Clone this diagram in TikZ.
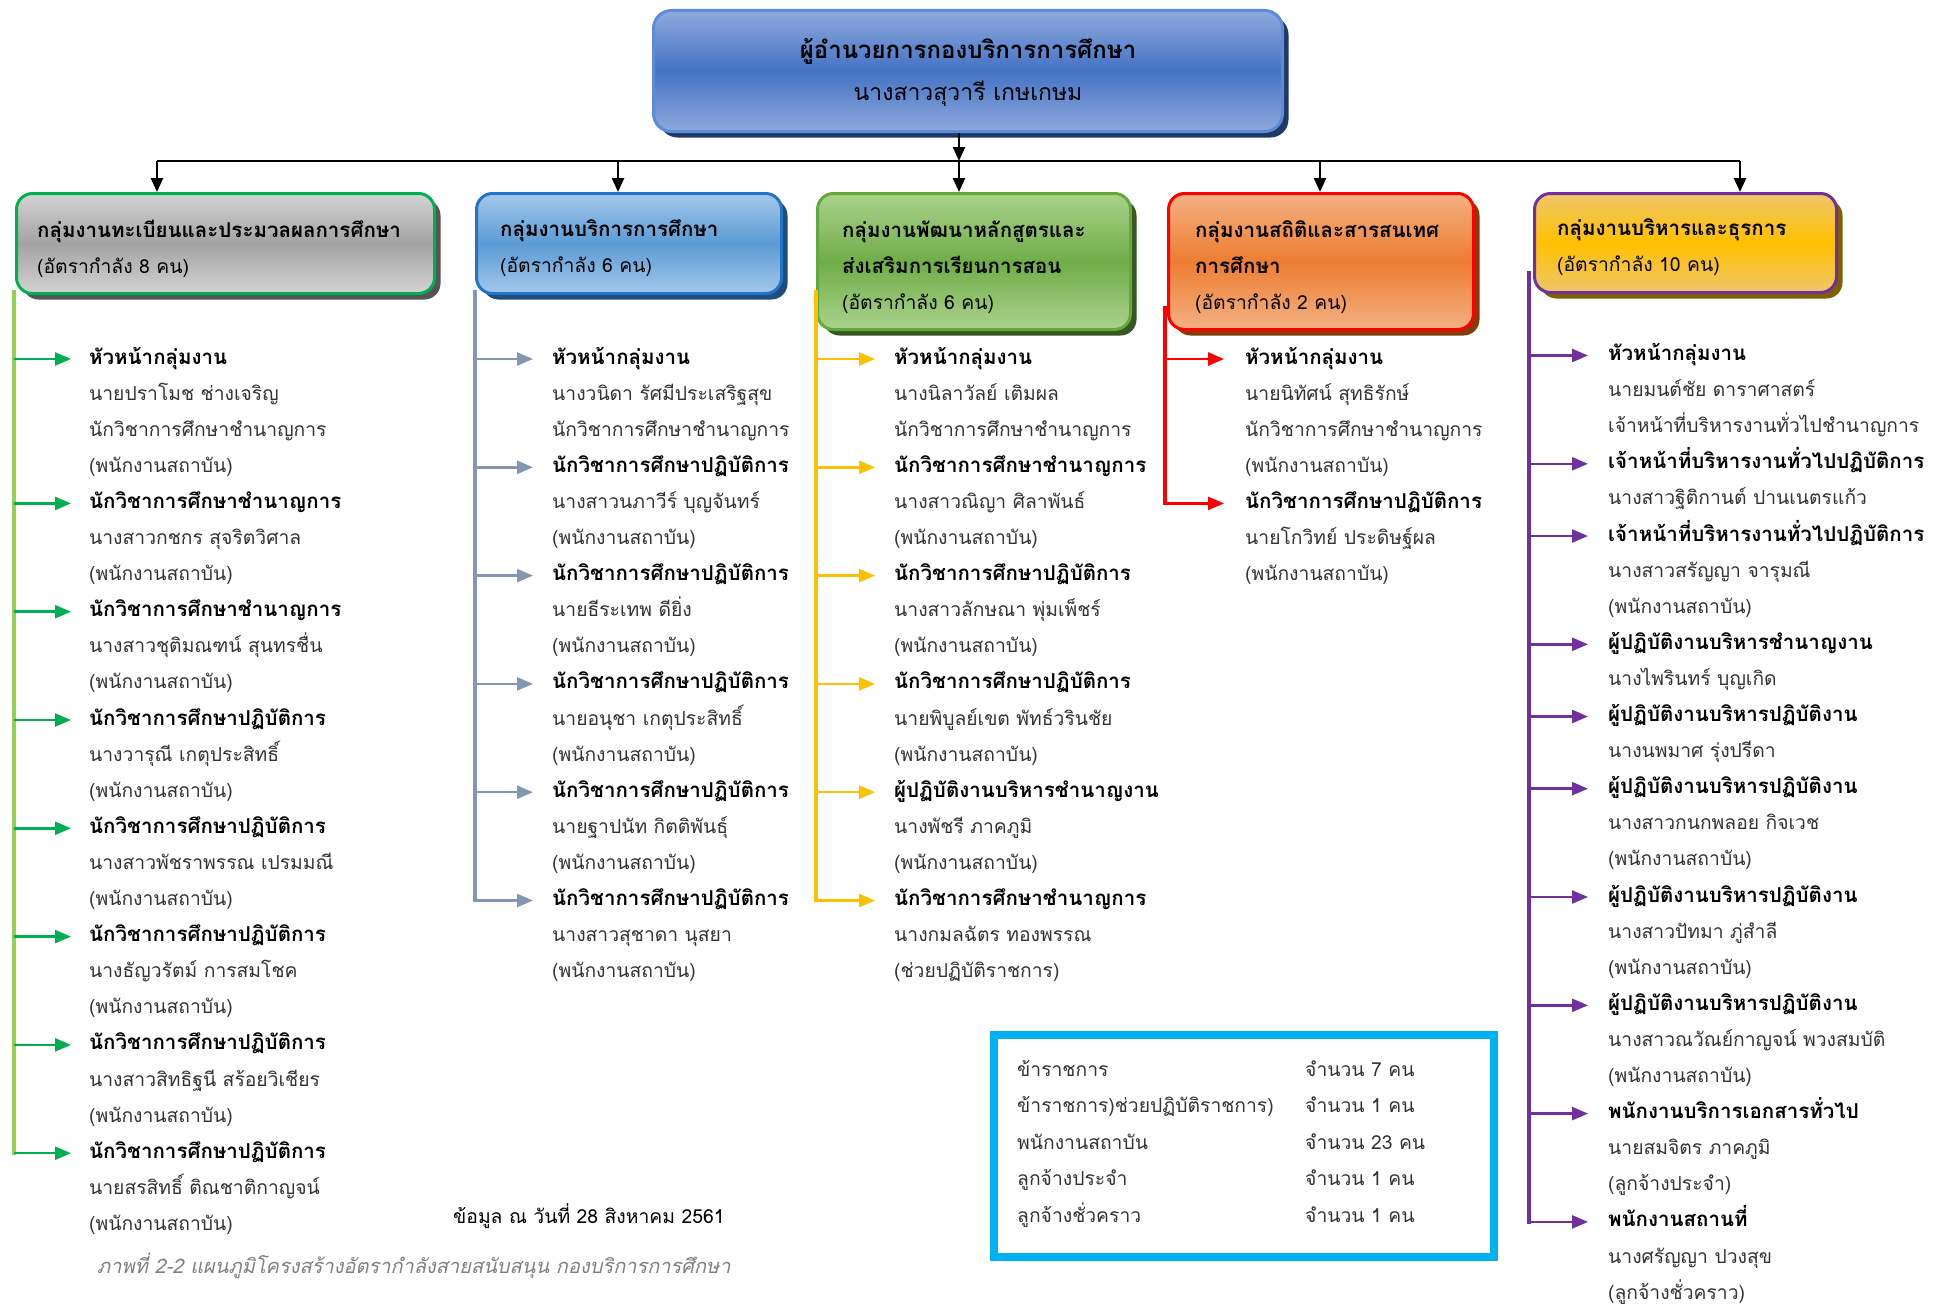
\documentclass[tikz,border=0pt]{standalone}
\usepackage{fontspec}
\setmainfont{Loma}[Script=Thai]
\usetikzlibrary{arrows.meta,shadows}
\definecolor{tblueA}{HTML}{8FAADC}\definecolor{tblueB}{HTML}{4472C4}\definecolor{tblueE}{HTML}{5B8BD9}\definecolor{tblueS}{HTML}{1F3864}
\definecolor{greyA}{HTML}{D3D3D3}\definecolor{greyB}{HTML}{A3A3A3}\definecolor{greyS}{HTML}{555555}
\definecolor{bluA}{HTML}{A4C8EA}\definecolor{bluB}{HTML}{5B9BD5}\definecolor{bluE}{HTML}{2373C8}\definecolor{bluS}{HTML}{1F4E79}
\definecolor{grnA}{HTML}{AAD38E}\definecolor{grnB}{HTML}{70AD47}\definecolor{grnE}{HTML}{62A83A}\definecolor{grnS}{HTML}{385723}
\definecolor{orA}{HTML}{F4B183}\definecolor{orB}{HTML}{ED7D31}\definecolor{orS}{HTML}{843C0C}
\definecolor{gdA}{HTML}{EDC66A}\definecolor{gdB}{HTML}{FFC000}\definecolor{gdS}{HTML}{7F6000}
\definecolor{lgreen}{HTML}{92D050}\definecolor{dgreen}{HTML}{00B050}
\definecolor{slate}{HTML}{8497B0}\definecolor{amber}{HTML}{FFC000}
\definecolor{purp}{HTML}{7030A0}\definecolor{cyanb}{HTML}{00B0F0}
\definecolor{bodytxt}{HTML}{333333}
\newcommand\bodyfont{\fontsize{19.3pt}{36pt}\selectfont}
\newcommand\tb[1]{{\fontsize{20.5pt}{36pt}\selectfont\bfseries\color{black}#1}}
\begin{document}
\begin{tikzpicture}[x=1pt,y=-1pt,
  grp/.style={rounded corners=16pt, line width=3pt, anchor=north west, inner sep=0pt},
  btxt/.style={anchor=west, inner sep=0pt, align=left, font=\bodyfont, text=black},
  ln/.style={anchor=west, inner sep=0pt, font=\bodyfont, text=bodytxt, text height=15pt, text depth=5pt},
  blk/.style={line width=2.5pt, draw=black, -{Triangle[length=14pt,width=12pt]}},
  ar/.style={line width=2.5pt, -{Triangle[length=16pt,width=13pt]}},
  vl/.style={line width=3.5pt, line cap=rect}]
\fill[white] (0,0) rectangle (1941,1306);
\useasboundingbox (0,0) rectangle (1941,1306);

% top box
\node[rounded corners=18pt, line width=3pt, draw=tblueE, top color=tblueA, bottom color=tblueA, middle color=tblueB,
  drop shadow={shadow xshift=6pt, shadow yshift=-6pt, fill=tblueS, opacity=1},
  anchor=north west, minimum width=629pt, minimum height=121pt, inner sep=0pt] (b0) at (652,9) {};
\node[align=center, inner sep=0pt, text=black, font=\fontsize{23pt}{42pt}\selectfont] (b0t) at ([yshift=-1.5pt]b0.center)
  {{\fontsize{24pt}{42pt}\selectfont\bfseries ผู้อำนวยการกองบริการการศึกษา}\\นางสาวสุวารี เกษเกษม};

% group boxes
\node[grp, draw=dgreen, top color=greyA, bottom color=greyA, middle color=greyB,
  drop shadow={shadow xshift=6pt, shadow yshift=-6pt, fill=greyS, opacity=1},
  minimum width=418pt, minimum height=100pt] (b1) at (15,192) {};
\node[btxt] (b1t) at ([xshift=22pt, yshift=-5pt]b1.west) {\tb{กลุ่มงานทะเบียนและประมวลผลการศึกษา}\\(อัตรากำลัง 8 คน)};
\node[grp, draw=bluE, top color=bluA, bottom color=bluA, middle color=bluB,
  drop shadow={shadow xshift=6pt, shadow yshift=-6pt, fill=bluS, opacity=1},
  minimum width=305pt, minimum height=100pt] (b2) at (475,192) {};
\node[btxt] (b2t) at ([xshift=25pt, yshift=-5pt]b2.west) {\tb{กลุ่มงานบริการการศึกษา}\\(อัตรากำลัง 6 คน)};
\node[grp, draw=grnE, top color=grnA, bottom color=grnA, middle color=grnB,
  drop shadow={shadow xshift=6pt, shadow yshift=-6pt, fill=grnS, opacity=1},
  minimum width=313pt, minimum height=136pt] (b3) at (816,192) {};
\node[btxt] (b3t) at ([xshift=26pt, yshift=-6pt]b3.west) {\tb{กลุ่มงานพัฒนาหลักสูตรและ}\\\tb{ส่งเสริมการเรียนการสอน}\\(อัตรากำลัง 6 คน)};
\node[grp, draw=red, top color=orA, bottom color=orA, middle color=orB,
  drop shadow={shadow xshift=6pt, shadow yshift=-6pt, fill=orS, opacity=1},
  minimum width=305pt, minimum height=136pt] (b4) at (1167,192) {};
\node[btxt] (b4t) at ([xshift=28pt, yshift=-6pt]b4.west) {\tb{กลุ่มงานสถิติและสารสนเทศ}\\\tb{การศึกษา}\\(อัตรากำลัง 2 คน)};
\node[grp, draw=purp, top color=gdA, bottom color=gdA, middle color=gdB,
  drop shadow={shadow xshift=6pt, shadow yshift=-6pt, fill=gdS, opacity=1},
  minimum width=302pt, minimum height=99pt] (b5) at (1533,192) {};
\node[btxt] (b5t) at ([xshift=24pt, yshift=-4pt]b5.west) {\tb{กลุ่มงานบริหารและธุรการ}\\(อัตรากำลัง 10 คน)};

% top connectors
\coordinate (jn) at (959,161);
\coordinate (barL) at (157,161);
\coordinate (barR) at (1740,161);
\coordinate (j2) at (618,161);
\coordinate (j4) at (1320,161);
\draw[blk] (b0.south -| jn) -- (jn);
\draw[line width=2.5pt] (barL) -- (barR);
\draw[blk] (barL) -- (barL |- b1.north);
\draw[blk] (j2) -- (j2 |- b2.north);
\draw[blk] (jn) -- (jn |- b3.north);
\draw[blk] (j4) -- (j4 |- b4.north);
\draw[blk] (barR) -- (barR |- b5.north);

% group 1
\foreach \i/\t in {0/\tb{หัวหน้ากลุ่มงาน}, 1/นายปราโมช ช่างเจริญ, 2/นักวิชาการศึกษาชำนาญการ, 3/(พนักงานสถาบัน),
  4/\tb{นักวิชาการศึกษาชำนาญการ}, 5/นางสาวกชกร สุจริตวิศาล, 6/(พนักงานสถาบัน),
  7/\tb{นักวิชาการศึกษาชำนาญการ}, 8/นางสาวชุติมณฑน์ สุนทรชื่น, 9/(พนักงานสถาบัน),
  10/\tb{นักวิชาการศึกษาปฏิบัติการ}, 11/นางวารุณี เกตุประสิทธิ์, 12/(พนักงานสถาบัน),
  13/\tb{นักวิชาการศึกษาปฏิบัติการ}, 14/นางสาวพัชราพรรณ เปรมมณี, 15/(พนักงานสถาบัน),
  16/\tb{นักวิชาการศึกษาปฏิบัติการ}, 17/นางธัญวรัตม์ การสมโชค, 18/(พนักงานสถาบัน),
  19/\tb{นักวิชาการศึกษาปฏิบัติการ}, 20/นางสาวสิทธิฐนี สร้อยวิเชียร, 21/(พนักงานสถาบัน),
  22/\tb{นักวิชาการศึกษาปฏิบัติการ}, 23/นายสรสิทธิ์ ติณชาติกาญจน์, 24/(พนักงานสถาบัน)}
  \node[ln] (g1-\i) at (89,359+\i*36.1) {\t};
\coordinate (v1) at (14,292);
\draw[vl, lgreen] (v1) -- (v1 |- g1-22.west);
\foreach \i in {0,4,7,10,13,16,19,22}
  \draw[ar, dgreen] (v1 |- g1-\i.west) -- ([xshift=-18pt]g1-\i.west);

% group 2
\foreach \i/\t in {0/\tb{หัวหน้ากลุ่มงาน}, 1/นางวนิดา รัศมีประเสริฐสุข, 2/นักวิชาการศึกษาชำนาญการ,
  3/\tb{นักวิชาการศึกษาปฏิบัติการ}, 4/นางสาวนภาวีร์ บุญจันทร์, 5/(พนักงานสถาบัน),
  6/\tb{นักวิชาการศึกษาปฏิบัติการ}, 7/นายธีระเทพ ดียิ่ง, 8/(พนักงานสถาบัน),
  9/\tb{นักวิชาการศึกษาปฏิบัติการ}, 10/นายอนุชา เกตุประสิทธิ์, 11/(พนักงานสถาบัน),
  12/\tb{นักวิชาการศึกษาปฏิบัติการ}, 13/นายฐาปนัท กิตติพันธุ์, 14/(พนักงานสถาบัน),
  15/\tb{นักวิชาการศึกษาปฏิบัติการ}, 16/นางสาวสุชาดา นุสยา, 17/(พนักงานสถาบัน)}
  \node[ln] (g2-\i) at (552,359+\i*36.1) {\t};
\coordinate (v2) at (475,292);
\draw[vl, slate] (v2) -- (v2 |- g2-15.west);
\foreach \i in {0,3,6,9,12,15}
  \draw[ar, slate] (v2 |- g2-\i.west) -- ([xshift=-19pt]g2-\i.west);

% group 3
\foreach \i/\t in {0/\tb{หัวหน้ากลุ่มงาน}, 1/นางนิลาวัลย์ เติมผล, 2/นักวิชาการศึกษาชำนาญการ,
  3/\tb{นักวิชาการศึกษาชำนาญการ}, 4/นางสาวณิญา ศิลาพันธ์, 5/(พนักงานสถาบัน),
  6/\tb{นักวิชาการศึกษาปฏิบัติการ}, 7/นางสาวลักษณา พุ่มเพ็ชร์, 8/(พนักงานสถาบัน),
  9/\tb{นักวิชาการศึกษาปฏิบัติการ}, 10/นายพิบูลย์เขต พัทธ์วรินชัย, 11/(พนักงานสถาบัน),
  12/\tb{ผู้ปฏิบัติงานบริหารชำนาญงาน}, 13/นางพัชรี ภาคภูมิ, 14/(พนักงานสถาบัน),
  15/\tb{นักวิชาการศึกษาชำนาญการ}, 16/นางกมลฉัตร ทองพรรณ, 17/(ช่วยปฏิบัติราชการ)}
  \node[ln] (g3-\i) at (894,359+\i*36.1) {\t};
\coordinate (v3) at (816,292);
\draw[vl, amber] (v3) -- (v3 |- g3-15.west);
\foreach \i in {0,3,6,9,12,15}
  \draw[ar, amber] (v3 |- g3-\i.west) -- ([xshift=-19pt]g3-\i.west);

% group 4
\foreach \i/\t in {0/\tb{หัวหน้ากลุ่มงาน}, 1/นายนิทัศน์ สุทธิรักษ์, 2/นักวิชาการศึกษาชำนาญการ, 3/(พนักงานสถาบัน),
  4/\tb{นักวิชาการศึกษาปฏิบัติการ}, 5/นายโกวิทย์ ประดิษฐ์ผล, 6/(พนักงานสถาบัน)}
  \node[ln] (g4-\i) at (1245,359+\i*36.1) {\t};
\coordinate (v4) at (1165,308);
\draw[vl, red] (v4) -- (v4 |- g4-4.west);
\foreach \i in {0,4}
  \draw[ar, red] (v4 |- g4-\i.west) -- ([xshift=-21pt]g4-\i.west);

% group 5
\foreach \i/\t in {0/\tb{หัวหน้ากลุ่มงาน}, 1/นายมนต์ชัย ดาราศาสตร์, 2/เจ้าหน้าที่บริหารงานทั่วไปชำนาญการ,
  3/\tb{เจ้าหน้าที่บริหารงานทั่วไปปฏิบัติการ}, 4/นางสาวฐิติกานต์ ปานเนตรแก้ว,
  5/\tb{เจ้าหน้าที่บริหารงานทั่วไปปฏิบัติการ}, 6/นางสาวสรัญญา จารุมณี, 7/(พนักงานสถาบัน),
  8/\tb{ผู้ปฏิบัติงานบริหารชำนาญงาน}, 9/นางไพรินทร์ บุญเกิด,
  10/\tb{ผู้ปฏิบัติงานบริหารปฏิบัติงาน}, 11/นางนพมาศ รุ่งปรีดา,
  12/\tb{ผู้ปฏิบัติงานบริหารปฏิบัติงาน}, 13/นางสาวกนกพลอย กิจเวช, 14/(พนักงานสถาบัน),
  15/\tb{ผู้ปฏิบัติงานบริหารปฏิบัติงาน}, 16/นางสาวปัทมา ภู่สำลี, 17/(พนักงานสถาบัน),
  18/\tb{ผู้ปฏิบัติงานบริหารปฏิบัติงาน}, 19/นางสาวณวัณย์กาญจน์ พวงสมบัติ, 20/(พนักงานสถาบัน),
  21/\tb{พนักงานบริการเอกสารทั่วไป}, 22/นายสมจิตร ภาคภูมิ, 23/(ลูกจ้างประจำ),
  24/\tb{พนักงานสถานที่}, 25/นางศรัญญา ปวงสุข, 26/(ลูกจ้างชั่วคราว)}
  \node[ln] (g5-\i) at (1608,355.5+\i*36.1) {\t};
\coordinate (v5) at (1529,273);
\draw[vl, purp] (v5) -- (v5 |- g5-24.west);
\foreach \i in {0,3,5,8,10,12,15,18,21,24}
  \draw[ar, purp] (v5 |- g5-\i.west) -- ([xshift=-20pt]g5-\i.west);

% summary box
\node[draw=cyanb, line width=8pt, anchor=north west, minimum width=500pt, minimum height=222pt, inner sep=0pt] (sum) at (990,1031) {};
\draw[cyanb, line width=2pt] ([shift={(7,7)}]sum.north west) rectangle ([shift={(-7,-7)}]sum.south east);
\foreach \i/\a/\b in {0/ข้าราชการ/จำนวน 7 คน, 1/ข้าราชการ)ช่วยปฏิบัติราชการ)/จำนวน 1 คน, 2/พนักงานสถาบัน/จำนวน 23 คน,
  3/ลูกจ้างประจำ/จำนวน 1 คน, 4/ลูกจ้างชั่วคราว/จำนวน 1 คน}{
  \node[ln] (sl\i) at (1017,1071+\i*36.5) {\a};
  \node[ln] (sr\i) at (1305,1071+\i*36.5) {\b};
}

% date and caption
\node[ln, text=black] (date) at (453,1218) {ข้อมูล ณ วันที่ 28 สิงหาคม 2561};
\node[ln, text=gray, font=\fontsize{20pt}{36pt}\selectfont\itshape] (cap) at (97,1268) {ภาพที่ 2-2 แผนภูมิโครงสร้างอัตรากำลังสายสนับสนุน กองบริการการศึกษา};
\end{tikzpicture}
\end{document}
